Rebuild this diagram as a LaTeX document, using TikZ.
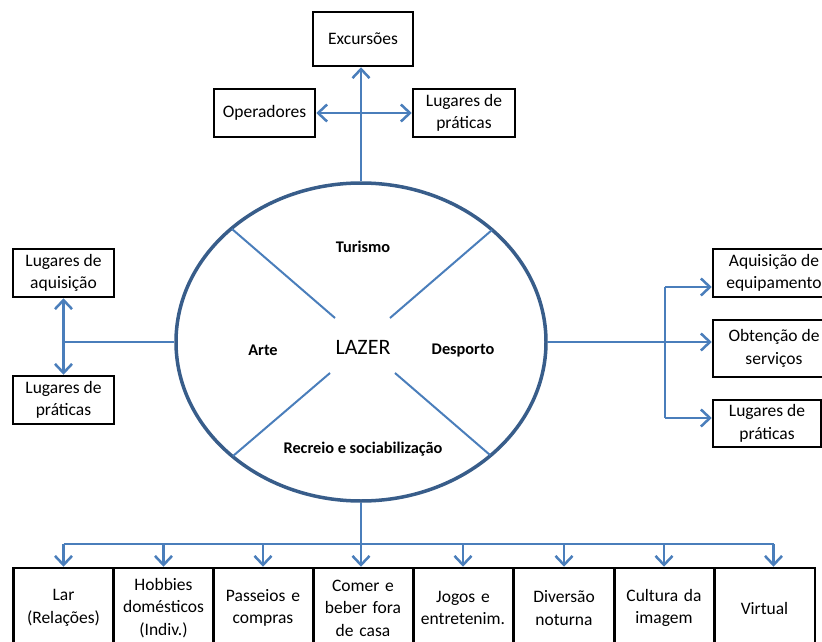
\documentclass[tikz,border=0pt]{standalone}
\usepackage{fontspec}
\setmainfont{Carlito}
\usetikzlibrary{arrows.meta,shapes.geometric}
\definecolor{linkblue}{HTML}{4A7EBB}
\definecolor{rimblue}{HTML}{385D8A}
\tikzset{
  box/.style={draw=black, line width=2.5pt, rectangle, inner sep=0pt, align=center,
    font=\fontsize{17.5}{22.5}\selectfont},
  link/.style={draw=linkblue, line width=2.5pt},
  arr/.style={link, -{Straight Barb[length=9pt,width=17pt,line width=2.5pt]}},
  arrboth/.style={link, {Straight Barb[length=9pt,width=17pt,line width=2.5pt]}-{Straight Barb[length=9pt,width=17pt,line width=2.5pt]}},
  sector/.style={font=\fontsize{16.3}{19}\selectfont\bfseries},
  spoke/.style={draw=linkblue, line width=2pt}
}
\begin{document}
\begin{tikzpicture}[x=1pt,y=-1pt]
\clip (0,0) rectangle (822,642);

% central ellipse
\node[draw=rimblue, line width=3.5pt, ellipse, minimum width=370, minimum height=318, inner sep=0pt] (L) at (361,342) {};
\node[font=\fontsize{22}{26}\selectfont] (lazer) at (363,347) {LAZER};
\node[sector] (tur) at (363,247) {Turismo};
\node[sector] (arte) at (263,350) {Arte};
\node[sector] (desp) at (463,350) {Desporto};
\node[sector] (recr) at (363,449) {Recreio e sociabilização};

% spokes
\coordinate (ulo) at (232,229); \coordinate (uli) at (335,318);
\coordinate (uro) at (492,230); \coordinate (uri) at (390,318);
\coordinate (llo) at (233,456); \coordinate (lli) at (330,373);
\coordinate (lro) at (490,455); \coordinate (lri) at (395,373);
\draw[spoke] (ulo) -- (uli);
\draw[spoke] (uro) -- (uri);
\draw[spoke] (llo) -- (lli);
\draw[spoke] (lro) -- (lri);

% top group
\node[box, minimum width=100, minimum height=54] (exc) at (363,39) {Excursões};
\node[box, minimum width=101, minimum height=48] (oper) at (264.5,113) {Operadores};
\node[box, minimum width=102, minimum height=48] (lugT) at (464,113) {Lugares de\\práticas};
\draw[arr] (L.north) -- (L.north |- exc.south);
\draw[arrboth] (oper.east) -- (lugT.west);

% left group
\node[box, minimum width=101, minimum height=48] (aq) at (63.5,273) {Lugares de\\aquisição};
\node[box, minimum width=101, minimum height=48] (lugL) at (63.5,400) {Lugares de\\práticas};
\draw[arrboth] (aq.south) -- (lugL.north);
\draw[link] (L.west) -- (L.west -| aq.south);

% right group
\node[box, minimum width=122, minimum height=48] (aqe) at (774,273) {Aquisição de\\equipamento};
\node[box, minimum width=122, minimum height=57] (obt) at (774,348.5) {Obtenção de\\serviços};
\node[box, minimum width=108, minimum height=47] (lugR) at (767,423.5) {Lugares de\\práticas};
\coordinate (jrT) at (665,287);
\coordinate (jrB) at (665,418);
\draw[link] (jrT) -- (jrB);
\draw[arr] (L.east) -- (L.east -| obt.west);
\draw[arr] (jrT) -- (jrT -| aqe.west);
\draw[arr] (jrB) -- (jrB -| lugR.west);

% bottom row
\foreach \n/\cx/\txt in {b1/63.5/{Lar\\(Relações)}, b2/163.5/{Hobbies\\domésticos\\(Indiv.)},
  b3/263/{Passeios e\\compras}, b4/363/{Comer e\\beber fora\\de casa}, b5/463/{Jogos e\\entretenim.},
  b6/564/{Diversão\\noturna}, b7/664/{Cultura da\\imagem}, b8/764.5/{Virtual}}
  \node[box, minimum height=80, text width=95, minimum width=100.5] (\n) at (\cx,608) {\txt};
\coordinate (bus) at (0,544);
\coordinate (v8) at ([xshift=9pt]b8.north);
\draw[link] (b1.north |- bus) -- (v8 |- bus);
\draw[arr] (L.south) -- (L.south |- b4.north);
\foreach \n in {b1,b2,b3,b5,b6,b7}
  \draw[arr] (\n.north |- bus) -- (\n.north);
\draw[arr] (v8 |- bus) -- (v8);
\end{tikzpicture}
\end{document}
